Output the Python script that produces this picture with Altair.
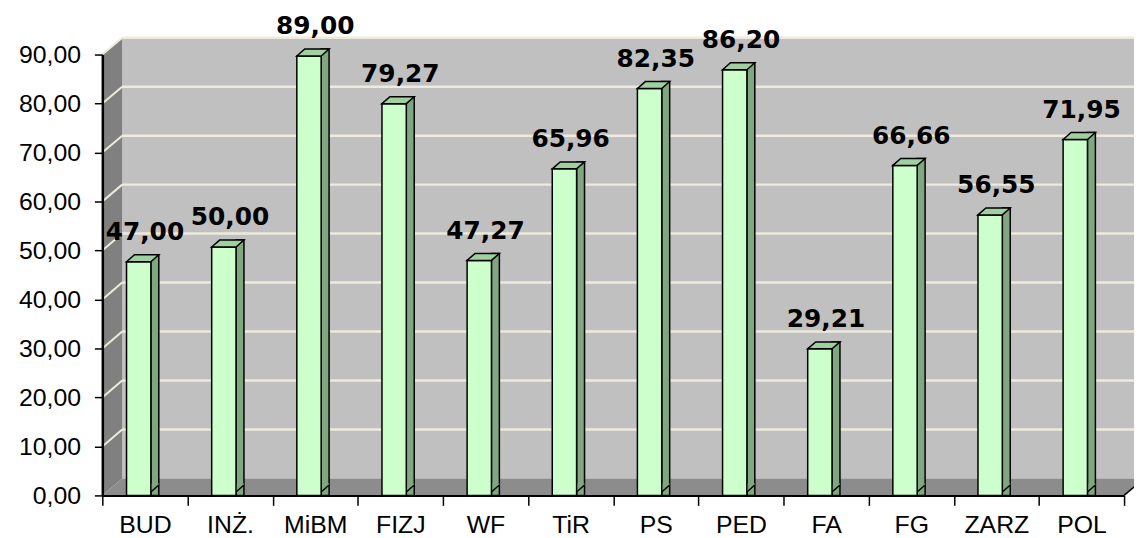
import altair as alt
import pandas as pd

# ---- data ----
categories = ["BUD", "INŻ.", "MiBM", "FIZJ", "WF", "TiR", "PS", "PED", "FA", "FG", "ZARZ", "POL"]
values = [47.00, 50.00, 89.00, 79.27, 47.27, 65.96, 82.35, 86.20, 29.21, 66.66, 56.55, 71.95]
y_ticks = [0, 10, 20, 30, 40, 50, 60, 70, 80, 90]

# ---- geometry / style constants ----
W, H = 1029, 444          # plot area
DX, DY = 20, 17           # 3D wall depth (px)
B = 3.5                   # bar lift (bars sit slightly behind the front edge)
BW, BH = 8, 7             # bar depth (px)
FRONT_W = 24.5
FRONT_OFF = -6.25         # front face centre relative to band centre
FL, FR = FRONT_OFF - FRONT_W / 2, FRONT_OFF + FRONT_W / 2
LABEL_GAP = 22

BACK = "#C0C0C0"
LEFTWALL = "#808080"
FLOOR = "#8C8C8C"
GRID = "#EEEADC"
FRONT = "#CCFFCC"
SIDE = "#80A880"
TOP = "#A0D0A0"

df = pd.DataFrame({"cat": categories, "value": values})
grid_df = pd.DataFrame({"v": y_ticks[1:]})
one = pd.DataFrame({"k": [0]})

yscale = alt.Scale(domain=[0, 90], nice=False, zero=True)
xscale = alt.Scale(paddingInner=0, paddingOuter=0)

y_axis = alt.Axis(
    values=y_ticks,
    labelExpr="replace(format(datum.value, '.2f'), '.', ',')",
    title=None, grid=False, zindex=1,
    domainColor="black", domainWidth=2.5,
    tickColor="black", tickWidth=1.5, tickSize=8,
    labelFont="Liberation Sans", labelFontSize=25, labelColor="black",
    labelPadding=14,
)
x_axis = alt.Axis(
    title=None, labelAngle=0, tickBand="extent", zindex=1,
    domainColor="black", domainWidth=2,
    tickColor="black", tickWidth=1.5, tickSize=10,
    labelFont="Liberation Sans", labelFontSize=25, labelColor="black",
    labelPadding=7,
)

X = alt.X("cat:N", sort=categories, scale=xscale, axis=x_axis)
Y = alt.Y("value:Q", scale=yscale, axis=y_axis, stack=None)
YG = alt.Y("v:Q", scale=yscale, axis=y_axis)

# ---- 3D frame ----
back = alt.Chart(one).mark_rect(fill=BACK).encode(
    x=alt.value(DX), x2=alt.value(W + DX), y=alt.value(-DY), y2=alt.value(H - DY)
)
left_wall = alt.Chart(one).mark_point(
    shape=f"M0,0L{DX},{-DY}L{DX},{H - DY}L0,{H}Z",
    size=4, filled=True, fill=LEFTWALL, opacity=1, strokeWidth=0,
).encode(x=alt.value(0), y=alt.value(0))
floor = alt.Chart(one).mark_point(
    shape=f"M0,0L{DX},{-DY}L{W + DX},{-DY}L{W},0Z",
    size=4, filled=True, fill=FLOOR, opacity=1, strokeWidth=0,
).encode(x=alt.value(0), y=alt.value(H))
floor_edge = alt.Chart(one).mark_rule(color="black", strokeWidth=1.5).encode(
    x=alt.value(W), x2=alt.value(W + DX), y=alt.value(H), y2=alt.value(H - DY)
)

grid_back = alt.Chart(grid_df).mark_rule(color=GRID, strokeWidth=2.5, yOffset=-DY).encode(
    y=YG, x=alt.value(DX), x2=alt.value(W + DX)
)
grid_left = alt.Chart(grid_df).mark_rule(color=GRID, strokeWidth=2, y2Offset=-DY).encode(
    y=YG, y2="v:Q", x=alt.value(0), x2=alt.value(DX)
)

# ---- bars (3D) ----
side = alt.Chart(df).mark_bar(
    width=BW, xOffset=FR + BW / 2, yOffset=-B - BH, y2Offset=-B - BH,
    fill=SIDE, stroke="black", strokeWidth=1.5,
).encode(x=X, y=Y)
side_bottom = alt.Chart(df).mark_point(
    shape=f"M{FR},{-B - BH - 1.5}L{FR + BW},{-B - BH - 1.5}L{FR + BW},{-B - BH}L{FR},{-B}Z",
    size=4, filled=True, fill=SIDE, opacity=1, strokeWidth=0,
).encode(x=X, y=alt.value(H))
side_diag = alt.Chart(df).mark_point(
    shape=f"M{FR + BW},{-B - BH}L{FR},{-B}",
    size=4, filled=False, stroke="black", strokeWidth=1.5, opacity=1,
).encode(x=X, y=alt.value(H))
front = alt.Chart(df).mark_bar(
    width=FRONT_W, xOffset=FRONT_OFF, yOffset=-B, y2Offset=-B,
    fill=FRONT, stroke="black", strokeWidth=1.5,
).encode(x=X, y=Y)
top = alt.Chart(df).mark_point(
    shape=f"M{FL},{-B}L{FL + BW},{-B - BH}L{FR + BW},{-B - BH}L{FR},{-B}Z",
    size=4, filled=True, fill=TOP, stroke="black", strokeWidth=1.5, opacity=1,
).encode(x=X, y=Y)

labels = alt.Chart(df).transform_calculate(
    label="replace(format(datum.value, '.2f'), '.', ',')"
).mark_text(
    font="DejaVu Sans", fontWeight="bold", fontSize=25, color="black",
    baseline="alphabetic", align="center", dy=-(B + LABEL_GAP),
).encode(x=X, y=Y, text="label:N")

chart = alt.layer(
    back, left_wall, floor, floor_edge, grid_back, grid_left,
    side, side_bottom, side_diag, front, top, labels,
).properties(
    width=W, height=H,
    autosize=alt.AutoSizeParams(type="none"),
    padding={"left": 95, "top": 45, "right": 10, "bottom": 41},
    background="white",
).configure_view(strokeWidth=0)

chart.save("out.html", embed_options={"renderer": "svg", "actions": False})
